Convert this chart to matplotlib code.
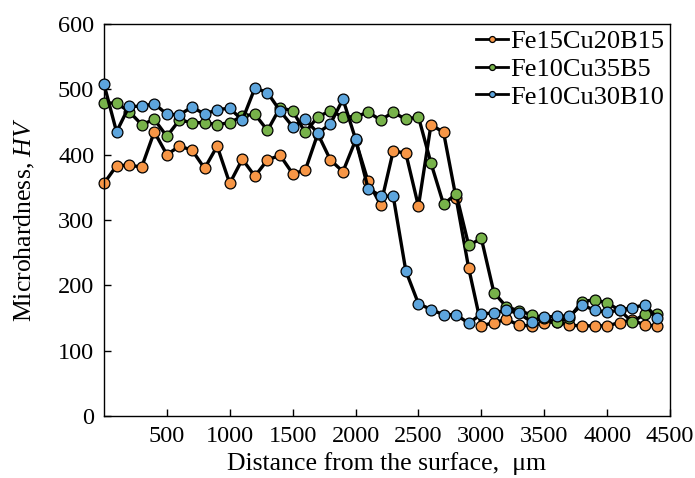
import matplotlib
matplotlib.use("Agg")
import matplotlib.pyplot as plt
from matplotlib.ticker import FixedLocator

plt.rcParams['font.family'] = ['Liberation Serif', 'DejaVu Serif']
plt.rcParams['mathtext.fontset'] = 'custom'
plt.rcParams['mathtext.rm'] = 'Liberation Serif'
plt.rcParams['mathtext.it'] = 'Liberation Serif:italic'

distance = list(range(0, 4500, 100))

fe15cu20b15 = [356, 383, 384, 381, 435, 400, 413, 407, 379, 413,
               356, 393, 367, 392, 399, 371, 376, 432, 392, 374,
               422, 359, 323, 406, 402, 321, 446, 434, 333, 226,
               138, 143, 148, 139, 138, 143, 144, 139, 138, 138,
               138, 143, 147, 139, 138]

fe10cu35b5 = [479, 479, 466, 446, 454, 428, 453, 449, 449, 446,
              449, 459, 462, 437, 472, 467, 434, 458, 467, 458,
              458, 465, 453, 465, 454, 458, 387, 324, 340, 261,
              272, 189, 167, 161, 155, 150, 144, 150, 175, 178,
              173, 162, 144, 156, 156]

fe10cu30b10 = [508, 435, 474, 474, 478, 462, 461, 473, 462, 469,
               471, 453, 502, 495, 467, 443, 454, 433, 447, 485,
               424, 348, 337, 336, 222, 172, 163, 155, 155, 142,
               156, 158, 162, 157, 144, 151, 153, 153, 170, 162,
               159, 162, 166, 170, 150]

series_names = ['Fe15Cu20B15', 'Fe10Cu35B5', 'Fe10Cu30B10']
series_colors = ['#F79646', '#77B24A', '#5DA5DD']
series_values = [fe15cu20b15, fe10cu35b5, fe10cu30b10]

x_ticks = [500, 1000, 1500, 2000, 2500, 3000, 3500, 4000, 4500]
y_ticks = [0, 100, 200, 300, 400, 500, 600]

fig = plt.figure(figsize=(6.95, 4.78), dpi=100)
ax = fig.add_axes([0.1496, 0.1297, 0.8144, 0.8201])

for i, (name, col, vals) in enumerate(zip(series_names, series_colors, series_values)):
    ax.plot(distance, vals, color='black', linewidth=2.4, marker='o',
            markersize=7.8, markerfacecolor=col, markeredgecolor='black',
            markeredgewidth=0.9, label=name, zorder=2 + i, clip_on=False)

ax.set_xlim(0, 4500)
ax.set_ylim(0, 600)
ax.xaxis.set_major_locator(FixedLocator(x_ticks))
ax.yaxis.set_major_locator(FixedLocator(y_ticks))
ax.tick_params(direction='in', length=5, width=1, labelsize=17.5, pad=7)
for s in ax.spines.values():
    s.set_linewidth(1.0)

ax.set_xlabel('Distance from the surface,  μm', fontsize=18.5, labelpad=4)
ax.set_ylabel('Microhardness, $HV$', fontsize=18.5, labelpad=15)

leg = ax.legend(loc='upper right', frameon=False, fontsize=19,
                handlelength=1.2, handletextpad=0.08, labelspacing=0.16,
                borderaxespad=0.1, borderpad=0.12, markerscale=0.55)
for h in leg.legend_handles:
    h.set_linewidth(2.0)

fig.savefig('out.png', dpi=100)
